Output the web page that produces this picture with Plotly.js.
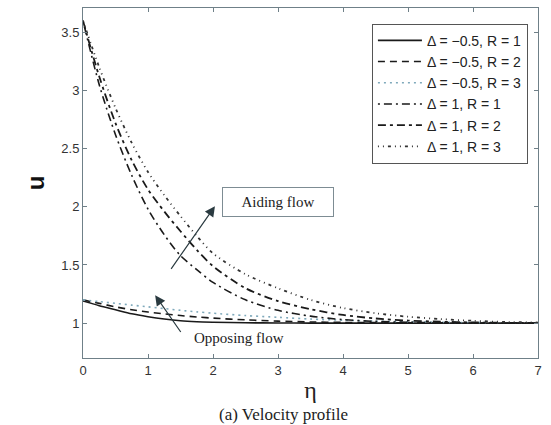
<!DOCTYPE html>
<html>
<head>
<meta charset="utf-8">
<script src="https://cdn.plot.ly/plotly-3.0.1.min.js"></script>
<style>html,body{margin:0;padding:0;background:#fff;}#chart{width:551px;height:425px;}</style>
</head>
<body>
<div id="chart"></div>
<script>
const eta = [0,0.25,0.5,0.75,1,1.25,1.5,1.75,2,2.5,3,3.5,4,4.5,5,5.5,6,6.5,7];
// Delta = -0.5 (opposing flow)
const uOppR1 = [1.19,1.15,1.115,1.08,1.055,1.035,1.02,1.012,1.008,1.003,1.001,1.0,1.0,1.0,1.0,1.0,1.0,1.0,1.0];
const uOppR2 = [1.20,1.17,1.14,1.115,1.095,1.08,1.065,1.053,1.043,1.028,1.017,1.01,1.006,1.004,1.002,1.001,1.0,1.0,1.0];
const uOppR3 = [1.20,1.185,1.17,1.155,1.14,1.125,1.11,1.097,1.085,1.065,1.05,1.035,1.025,1.017,1.011,1.007,1.005,1.003,1.002];
// Delta = 1 (aiding flow)
const uAidR1 = [3.6,3.05,2.62,2.27,1.98,1.76,1.58,1.46,1.35,1.2,1.11,1.06,1.03,1.015,1.007,1.003,1.001,1.0,1.0];
const uAidR2 = [3.6,3.12,2.72,2.40,2.15,1.96,1.79,1.63,1.49,1.3,1.19,1.12,1.07,1.04,1.022,1.012,1.006,1.003,1.0];
const uAidR3 = [3.6,3.2,2.85,2.55,2.3,2.1,1.92,1.75,1.6,1.42,1.3,1.2,1.13,1.085,1.055,1.035,1.02,1.01,1.005];
const seriesNames = ['Δ = −0.5, R = 1','Δ = −0.5, R = 2','Δ = −0.5, R = 3','Δ = 1, R = 1','Δ = 1, R = 2','Δ = 1, R = 3'];
const xTicks = [0,1,2,3,4,5,6,7];
const yTicks = [1,1.5,2,2.5,3,3.5];
const yTickText = ['1','1.5','2','2.5','3','3.5'];

const ys = [uOppR1,uOppR2,uOppR3,uAidR1,uAidR2,uAidR3];
const styles = [
  {color:'#1a1a1a', width:1.6, dash:'solid'},
  {color:'#1a1a1a', width:1.6, dash:'7px,5px'},
  {color:'#7fa9bb', width:1.6, dash:'2px,4px'},
  {color:'#1a1a1a', width:1.6, dash:'2px,4px,8px,4px'},
  {color:'#1a1a1a', width:1.8, dash:'8px,4px,3px,4px'},
  {color:'#333333', width:1.8, dash:'1px,4px,1px,4px,3px,4px'}
];
const traces = ys.map((y,i)=>({
  x: eta, y: y, type:'scatter', mode:'lines', name: seriesNames[i],
  line: Object.assign({shape:'spline', smoothing:0.8}, styles[i])
}));

const axisCommon = {
  showgrid:false, zeroline:false, showline:true, mirror:'ticks',
  linecolor:'#6f8088', linewidth:1, ticks:'inside', ticklen:4, tickcolor:'#6f8088',
  tickfont:{family:'Liberation Sans, Arial, sans-serif', size:13, color:'#333'}
};

const layout = {
  width:551, height:425,
  margin:{l:83, r:13, t:8, b:67},
  paper_bgcolor:'#fff', plot_bgcolor:'#fff',
  showlegend:true,
  legend:{x:0.635, y:0.955, xanchor:'left', yanchor:'top',
    bgcolor:'#fff', bordercolor:'#555', borderwidth:1, itemwidth:44,
    font:{family:'Liberation Sans, Arial, sans-serif', size:14, color:'#222'},
    tracegroupgap:0},
  xaxis: Object.assign({}, axisCommon, {
    range:[0,7], tickvals:xTicks,
    title:{text:'η', font:{family:'Liberation Serif, Times New Roman, serif', size:24, color:'#222'}, standoff:4}
  }),
  yaxis: Object.assign({}, axisCommon, {
    range:[0.7,3.71], tickvals:yTicks, ticktext:yTickText,
    title:{text:'<b>u</b>', font:{family:'Liberation Sans, Arial, sans-serif', size:24, color:'#111'}, standoff:9}
  }),
  annotations:[
    {x:3.0, y:2.04, xref:'x', yref:'y', text:'Aiding flow', showarrow:false,
     font:{family:'Liberation Serif, Times New Roman, serif', size:15, color:'#222'},
     bordercolor:'#7d8c93', borderwidth:1, borderpad:6, bgcolor:'#fff', width:98},
    {x:2.03, y:2.006, ax:1.34, ay:1.454, xref:'x', yref:'y', axref:'x', ayref:'y',
     text:'', showarrow:true, arrowhead:2, arrowsize:1.7, arrowwidth:1.2, arrowcolor:'#2a3a40'},
    {x:2.4, y:0.87, xref:'x', yref:'y', text:'Opposing flow', showarrow:false,
     font:{family:'Liberation Serif, Times New Roman, serif', size:15, color:'#222'}},
    {x:1.11, y:1.24, ax:1.52, ay:0.911, xref:'x', yref:'y', axref:'x', ayref:'y',
     text:'', showarrow:true, arrowhead:2, arrowsize:1.7, arrowwidth:1.2, arrowcolor:'#2a3a40'},
    {x:0.44, y:-0.1914, xref:'paper', yref:'paper', xanchor:'center', yanchor:'bottom',
     text:'(a) Velocity profile', showarrow:false, borderpad:0,
     font:{family:'Liberation Serif, Times New Roman, serif', size:17, color:'#222'}}
  ]
};

Plotly.newPlot('chart', traces, layout, {displayModeBar:false, staticPlot:true});
</script>
</body>
</html>
